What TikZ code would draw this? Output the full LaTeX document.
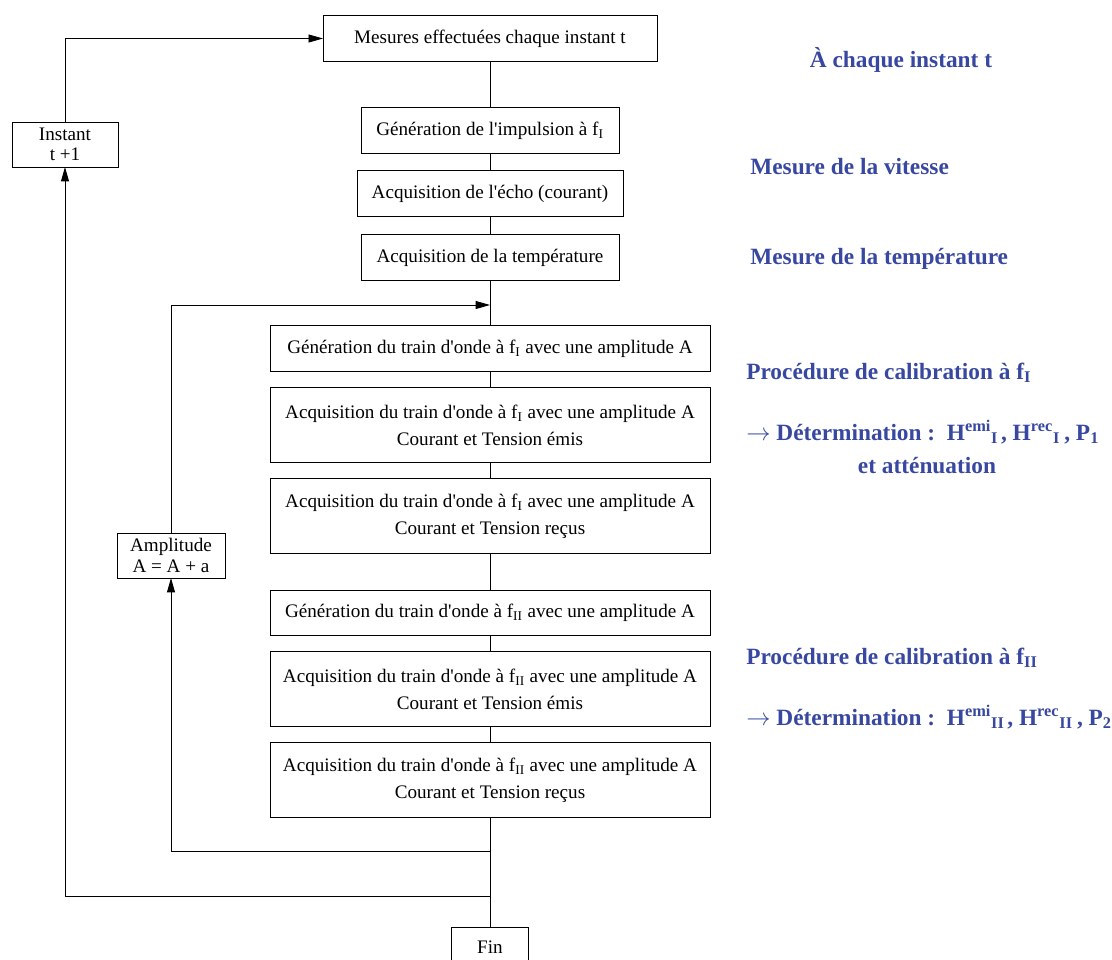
\documentclass[tikz,border=0pt]{standalone}
\usepackage{fontspec}
\setmainfont{Liberation Serif}
\usetikzlibrary{arrows.meta,positioning}
\definecolor{bleu}{RGB}{56,72,160}
\newcommand{\ap}{\textquotesingle}

\tikzset{
  etape/.style={draw, line width=0.6pt, outer sep=0pt, minimum height=1.15cm, inner sep=2pt,
    align=center, font=\fontsize{13.6}{19}\selectfont},
  large/.style={etape, minimum width=11cm},
  double/.style={large, minimum height=1.875cm},
  compteur/.style={draw, line width=0.6pt, outer sep=0pt, minimum height=1.125cm, inner sep=2pt,
    align=center, font=\fontsize{13.6}{14.5}\selectfont},
  note/.style={text=bleu, inner sep=0pt, font=\fontsize{16.6}{20}\bfseries\selectfont, anchor=base west},
  lien/.style={line width=0.6pt}
}

\begin{document}
\begin{tikzpicture}[x=0.025cm,y=-0.025cm,>={Triangle[length=3.6mm,width=2mm]}]
\useasboundingbox (0,0) rectangle (1112,960);
% colonne principale
\node[etape, minimum width=8.35cm] (mes) at (490,38.5) {Mesures effectuées chaque instant t};
\node[etape, minimum width=6.45cm, below=1.15cm of mes] (imp) {Génération de l\ap impulsion à f\textsubscript{I}};
\node[etape, minimum width=6.65cm, below=0.425cm of imp] (echo) {Acquisition de l\ap écho (courant)};
\node[etape, minimum width=6.45cm, below=0.45cm of echo] (temp) {Acquisition de la température};
\node[large, below=1.125cm of temp] (genI) {Génération du train d\ap onde à f\textsubscript{I} avec une amplitude A};
\node[double, below=0.4cm of genI] (emiI) {Acquisition du train d\ap onde à f\textsubscript{I} avec une amplitude A\\Courant et Tension émis};
\node[double, below=0.4cm of emiI] (recI) {Acquisition du train d\ap onde à f\textsubscript{I} avec une amplitude A\\Courant et Tension reçus};
\node[large, minimum height=1.125cm, below=0.925cm of recI] (genII) {Génération du train d\ap onde à f\textsubscript{II} avec une amplitude A};
\node[double, below=0.4cm of genII] (emiII) {Acquisition du train d\ap onde à f\textsubscript{II} avec une amplitude A\\Courant et Tension émis};
\node[double, below=0.4cm of emiII] (recII) {Acquisition du train d\ap onde à f\textsubscript{II} avec une amplitude A\\Courant et Tension reçus};
\node[etape, minimum width=1.925cm, minimum height=0.95cm, below=2.75cm of recII] (fin) {Fin};

% boucles
\node[compteur, minimum width=2.65cm] (inst) at (65,144.5) {Instant\\t +1};
\node[compteur, minimum width=2.7cm] (ampl) at (171,555.5) {Amplitude\\A = A + a};
\coordinate (entree) at (490,305);
\coordinate (retA) at (490,851);
\coordinate (retT) at (490,896);

\draw[lien] (mes) -- (imp) -- (echo) -- (temp) -- (genI) -- (emiI) -- (recI)
  -- (genII) -- (emiII) -- (recII) -- (fin);
\draw[lien,->] (ampl.north) |- (entree);
\draw[lien,->] (retA) -| (ampl.south);
\draw[lien,->] (retT) -| (inst.south);
\draw[lien,->] (inst.north) |- (mes.west);

% commentaires
\node[note, anchor=base] (n0) at (901,67) {À chaque instant t};
\node[note] (n1) at (750,174) {Mesure de la vitesse};
\node[note] (n2) at (750,264) {Mesure de la température};
\node[note] (n3) at (746,379) {Procédure de calibration à f\textsubscript{I}};
\node[note] (n4) at (746,440) {$\rightarrow$ Détermination :\enspace H\textsuperscript{emi}\textsubscript{I}\kern2pt, H\textsuperscript{rec}\textsubscript{I}\kern3pt, P\textsubscript{1}};
\node[note, anchor=base] (n5) at (927,473) {et atténuation};
\node[note] (n6) at (746,664) {Procédure de calibration à f\textsubscript{II}};
\node[note] (n7) at (746,725) {$\rightarrow$ Détermination :\enspace H\textsuperscript{emi}\textsubscript{II}\kern2pt, H\textsuperscript{rec}\textsubscript{II}\kern3pt, P\textsubscript{2}};
\end{tikzpicture}
\end{document}
